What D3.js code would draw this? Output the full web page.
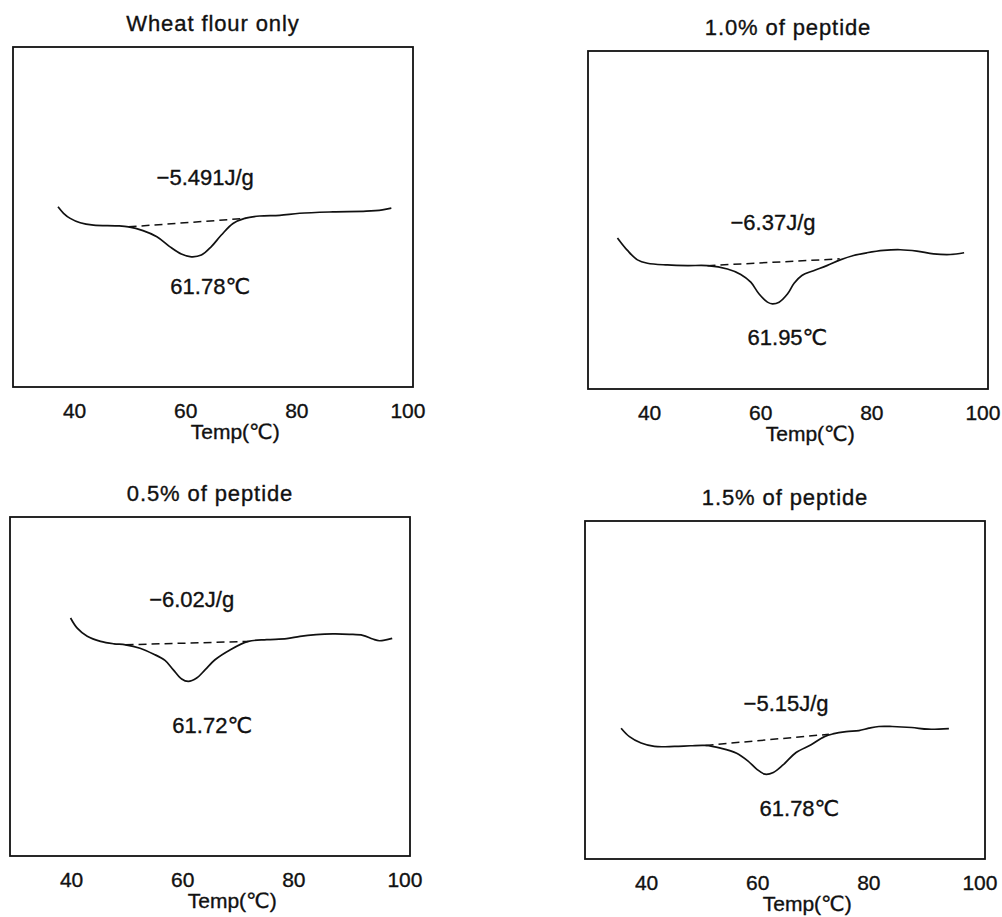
<!DOCTYPE html>
<html>
<head lang="en">
    <meta charset="UTF-8">
    <title>DSC thermograms</title>
    <script src="https://cdn.jsdelivr.net/npm/d3@7/dist/d3.min.js"></script>
    <style>
        body{ margin:0; background:#fff; }
        text{ font-family:"Liberation Sans", Arial, "DejaVu Sans", sans-serif; fill:#111; stroke:#111; stroke-width:0.35px; }
        .box{ fill:none; stroke:#111; stroke-width:1.8px; }
        .curve{ fill:none; stroke:#111; stroke-width:1.7px; }
        .base{ fill:none; stroke:#111; stroke-width:1.5px; stroke-dasharray:8,5; }
        .axis path{ display:none; }
        .axis line{ display:none; }
    </style>
</head>
<body>
    <div id="tu"></div>
</body>
</html>
<script>
    // sample names, enthalpy (J/g) and peak temperature (℃)
    var titles=['Wheat flour only','1.0% of peptide','0.5% of peptide','1.5% of peptide'];
    var enthalpy=[-5.491,-6.37,-6.02,-5.15];
    var peakTemp=[61.78,61.95,61.72,61.78];
    var tickValues=[40,60,80,100];

    // heat flow traces (temperature ℃ / relative heat flow)
    var tempWheat=[37.1,38.1,39.3,41.1,43.5,47.7,49.8,52.4,54.9,57.2,59.3,61.1,62.9,64.7,66.5,68.6,70.7,73.4,77.0,80.6,86.6,92.6,95.5,97.1];
    var flowWheat=[53.0,51.1,49.6,48.3,47.6,47.4,47.1,46.0,44.2,41.3,39.1,38.3,38.8,41.3,44.7,48.1,49.6,50.3,50.5,51.1,51.5,51.7,52.1,52.6];

    var temp10=[34.3,36.1,37.9,39.7,43.3,46.9,50.5,54.1,56.5,58.3,59.8,61.3,62.2,63.4,64.9,66.1,67.5,69.6,72.0,74.4,76.8,79.2,82.2,85.2,88.2,91.2,94.2,96.7];
    var flow10=[44.7,41.0,38.2,37.2,36.7,36.5,36.5,35.5,33.9,31.6,28.1,25.7,25.2,25.7,28.1,31.3,33.6,35.0,36.5,38.2,39.5,40.3,41.0,41.2,40.8,40.0,39.8,40.3];

    var temp05=[39.9,41.1,42.9,45.3,47.7,49.8,52.4,54.8,56.9,58.4,59.9,61.1,62.6,64.1,65.9,68.6,71.9,75.2,78.8,81.2,84.1,87.1,90.1,92.5,94.3,95.5,97.8];
    var flow05=[70.2,67.2,64.8,63.3,62.6,62.3,61.3,59.6,57.7,54.9,52.2,51.5,52.5,54.9,57.9,60.8,63.3,63.8,64.1,64.8,65.3,65.5,65.4,65.1,64.0,63.5,64.2];

    var temp15=[35.5,37.0,39.1,41.5,45.1,48.0,50.7,53.4,56.3,58.4,59.9,61.4,62.9,64.7,67.0,69.7,72.1,73.6,76.0,78.3,80.1,81.9,84.3,87.8,90.8,94.5];
    var flow15=[38.7,36.2,34.3,33.3,33.3,33.5,33.6,32.8,31.3,28.9,26.6,25.1,25.6,27.9,31.5,33.8,36.2,37.0,37.7,38.0,38.7,39.2,39.2,38.9,38.4,38.6];

    // dashed baselines under the peak: [start temp, end temp], [start flow, end flow]
    var baseTemp=[[49.8,70.9],[50.5,74.3],[49.8,71.9],[50.7,72.9]];
    var baseFlow=[[47.1,49.6],[36.5,38.5],[62.3,63.3],[33.6,36.9]];

    var temps=[tempWheat,temp10,temp05,temp15];
    var flows=[flowWheat,flow10,flow05,flow15];

    // panel frames and where the two labels sit (in data units)
    var frames=[
        {x:13,y:47,w:400,h:340, dH:[63.6,61.8], pT:[64.5,29.7]},
        {x:588,y:51,w:400,h:338, dH:[62.3,49.3], pT:[64.9,15.3]},
        {x:10,y:517,w:400,h:339, dH:[61.7,75.6], pT:[65.4,38.5]},
        {x:585,y:521,w:400,h:338, dH:[65.2,46.1], pT:[67.6,15.1]}
    ];

    var svg=d3.select('#tu').append('svg')
            .attr('width',1002)
            .attr('height',917);

    function drawPanel(i){
        var f=frames[i];
        var x=d3.scaleLinear().domain([29,101]).range([0,f.w]);
        var y=d3.scaleLinear().domain([0,100]).range([f.h,0]);
        var g=svg.append('g').attr('transform','translate('+f.x+','+f.y+')');

        g.append('rect').attr('class','box')
                .attr('x',0).attr('y',0)
                .attr('width',f.w).attr('height',f.h);

        g.append('text')
                .attr('x',f.w/2).attr('y',-24)
                .attr('dy','0.35em')
                .attr('text-anchor','middle')
                .style('font-size','22px')
                .style('letter-spacing','0.9px')
                .text(titles[i]);

        var pts=temps[i].map(function(t,k){ return [t,flows[i][k]]; });
        var line=d3.line()
                .x(function(d){ return x(d[0]); })
                .y(function(d){ return y(d[1]); })
                .curve(d3.curveCatmullRom.alpha(0.5));
        g.append('path').attr('class','curve').attr('d',line(pts));

        var bl=[[baseTemp[i][0],baseFlow[i][0]],[baseTemp[i][1],baseFlow[i][1]]];
        g.append('path').attr('class','base').attr('d',d3.line()
                .x(function(d){ return x(d[0]); })
                .y(function(d){ return y(d[1]); })(bl));

        g.append('text')
                .attr('x',x(f.dH[0])).attr('y',y(f.dH[1]))
                .attr('dy','0.35em')
                .attr('text-anchor','middle')
                .style('font-size','22px')
                .text('\u2212'+Math.abs(enthalpy[i])+'J/g');
        g.append('text')
                .attr('x',x(f.pT[0])).attr('y',y(f.pT[1]))
                .attr('dy','0.35em')
                .attr('text-anchor','middle')
                .style('font-size','22px')
                .text(peakTemp[i]+'\u2103');

        var axis=d3.axisBottom(x).tickValues(tickValues).tickSize(0).tickPadding(16);
        g.append('g').attr('class','axis')
                .attr('transform','translate(0,'+f.h+')')
                .call(axis)
                .selectAll('text')
                .style('font-size','21px')
                .style('font-family','"Liberation Sans", Arial, sans-serif')
                .attr('fill','#111');

        g.append('text')
                .attr('x',x(69)).attr('y',f.h+45)
                .attr('dy','0.35em')
                .attr('text-anchor','middle')
                .style('font-size','21px')
                .text('Temp(\u2103)');
    }

    for(var i=0;i<frames.length;i++){
        drawPanel(i);
    }
</script>
